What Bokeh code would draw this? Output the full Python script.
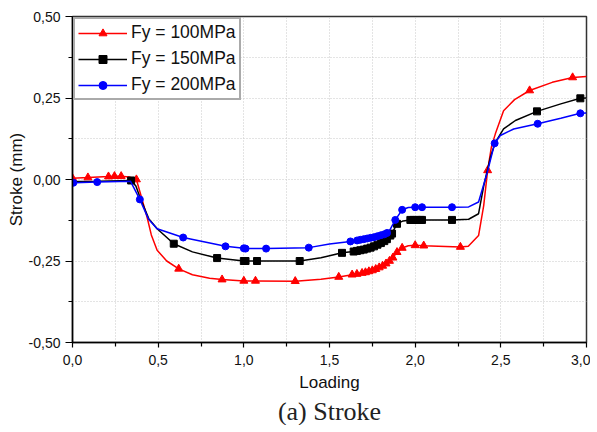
from bokeh.plotting import figure
from bokeh.models import FixedTicker, Legend, LegendItem, Title
from bokeh.embed import file_html
from bokeh.resources import INLINE

# ---- data ----
red_x = [0.0, 0.09, 0.21, 0.245, 0.284, 0.33, 0.373, 0.40, 0.435, 0.46, 0.494, 0.55, 0.62, 0.70, 0.80,
         0.873, 1.0, 1.068, 1.30, 1.45, 1.554, 1.632, 1.66, 1.69, 1.71, 1.73, 1.75, 1.77, 1.79, 1.81,
         1.83, 1.85, 1.87, 1.894, 1.924, 1.96, 2.0, 2.05, 2.264, 2.31, 2.37, 2.40, 2.423, 2.445, 2.468,
         2.516, 2.58, 2.668, 2.80, 2.919, 3.0]
red_y = [0.004, 0.006, 0.009, 0.010, 0.010, 0.008, 0.0, -0.05, -0.115, -0.17, -0.217, -0.25, -0.274,
         -0.292, -0.303, -0.307, -0.311, -0.311, -0.312, -0.306, -0.299, -0.292, -0.290, -0.287, -0.285,
         -0.282, -0.279, -0.275, -0.270, -0.265, -0.258, -0.250, -0.240, -0.223, -0.210, -0.203, -0.202,
         -0.203, -0.207, -0.205, -0.172, -0.08, 0.028, 0.10, 0.14, 0.211, 0.245, 0.273, 0.298, 0.313, 0.316]
red_mx = [0.0, 0.09, 0.21, 0.245, 0.284, 0.373, 0.62, 0.873, 1.0, 1.068, 1.30, 1.554, 1.632, 1.66, 1.69,
          1.71, 1.73, 1.75, 1.77, 1.79, 1.81, 1.83, 1.85, 1.87, 1.894, 1.924, 2.0, 2.05, 2.264, 2.423,
          2.668, 2.919]
red_my = [0.004, 0.006, 0.009, 0.010, 0.010, 0.0, -0.274, -0.307, -0.311, -0.311, -0.312, -0.299, -0.292,
          -0.290, -0.287, -0.285, -0.282, -0.279, -0.275, -0.270, -0.265, -0.258, -0.250, -0.240, -0.223,
          -0.210, -0.202, -0.203, -0.207, 0.028, 0.273, 0.313]

blk_x = [0.0, 0.15, 0.342, 0.37, 0.397, 0.445, 0.494, 0.591, 0.70, 0.844, 1.0, 1.077, 1.326, 1.45, 1.573,
         1.641, 1.68, 1.72, 1.76, 1.80, 1.835, 1.855, 1.865, 1.88, 1.894, 1.93, 1.972, 2.04, 2.215, 2.312,
         2.37, 2.40, 2.44, 2.468, 2.516, 2.585, 2.711, 2.85, 2.964, 3.0]
blk_y = [-0.006, -0.005, -0.003, -0.02, -0.059, -0.12, -0.151, -0.197, -0.222, -0.241, -0.25, -0.25, -0.25,
         -0.24, -0.225, -0.221, -0.217, -0.212, -0.205, -0.195, -0.183, -0.172, -0.166, -0.15, -0.136,
         -0.127, -0.124, -0.124, -0.124, -0.122, -0.105, -0.02, 0.07, 0.114, 0.155, 0.181, 0.209, 0.232,
         0.249, 0.25]
blk_mx = [0.342, 0.591, 0.844, 1.0, 1.01, 1.077, 1.326, 1.573, 1.641, 1.66, 1.68, 1.70, 1.72, 1.74, 1.76,
          1.78, 1.80, 1.82, 1.835, 1.855, 1.865, 1.894, 1.972, 1.99, 2.01, 2.03, 2.04, 2.215, 2.711, 2.964]
blk_my = [-0.003, -0.197, -0.241, -0.25, -0.25, -0.25, -0.25, -0.225, -0.221, -0.219, -0.217, -0.215,
          -0.212, -0.209, -0.205, -0.200, -0.195, -0.189, -0.183, -0.172, -0.166, -0.136, -0.124, -0.124,
          -0.124, -0.124, -0.124, -0.124, 0.209, 0.249]

blu_x = [0.0, 0.012, 0.144, 0.338, 0.393, 0.445, 0.494, 0.646, 0.893, 1.0, 1.01, 1.13, 1.379, 1.50, 1.622,
         1.661, 1.70, 1.74, 1.78, 1.82, 1.851, 1.884, 1.924, 1.96, 2.0, 2.04, 2.215, 2.312, 2.37, 2.42,
         2.464, 2.497, 2.575, 2.715, 2.85, 2.964, 3.0]
blu_y = [-0.01, -0.01, -0.008, -0.005, -0.061, -0.123, -0.151, -0.178, -0.205, -0.211, -0.212, -0.212,
         -0.209, -0.198, -0.19, -0.187, -0.183, -0.179, -0.174, -0.168, -0.156, -0.124, -0.093, -0.086,
         -0.085, -0.085, -0.085, -0.084, -0.069, 0.02, 0.111, 0.135, 0.155, 0.171, 0.188, 0.203, 0.204]
blu_mx = [0.005, 0.144, 0.393, 0.646, 0.893, 1.0, 1.01, 1.13, 1.379, 1.622, 1.661, 1.68, 1.70, 1.72, 1.74,
          1.76, 1.78, 1.80, 1.82, 1.836, 1.884, 1.924, 2.0, 2.04, 2.215, 2.464, 2.715, 2.964]
blu_my = [-0.01, -0.008, -0.061, -0.178, -0.205, -0.211, -0.212, -0.212, -0.209, -0.19, -0.187, -0.185,
          -0.183, -0.181, -0.179, -0.177, -0.174, -0.171, -0.168, -0.164, -0.124, -0.093, -0.085, -0.085,
          -0.085, 0.111, 0.171, 0.203]

labels = ["Fy = 100MPa", "Fy = 150MPa", "Fy = 200MPa"]
x_ticks = [0.0, 0.5, 1.0, 1.5, 2.0, 2.5, 3.0]
x_tick_labels = ["0,0", "0,5", "1,0", "1,5", "2,0", "2,5", "3,0"]
y_ticks = [-0.5, -0.25, 0.0, 0.25, 0.5]
y_tick_labels = ["-0,50", "-0,25", "0,00", "0,25", "0,50"]

FONT = "Liberation Sans"

p = figure(width=590, height=425, x_range=(0, 3), y_range=(-0.5, 0.5),
           output_backend="svg", toolbar_location=None,
           min_border_left=72, min_border_top=16, min_border_right=4, min_border_bottom=83)

p.outline_line_color = "#333333"
p.outline_line_width = 1.5
p.background_fill_color = "white"

# axes
p.xaxis.ticker = FixedTicker(ticks=x_ticks, minor_ticks=[0.25, 0.75, 1.25, 1.75, 2.25, 2.75])
p.yaxis.ticker = FixedTicker(ticks=y_ticks, minor_ticks=[-0.375, -0.125, 0.125, 0.375])
p.xaxis.major_label_overrides = dict(zip(x_ticks, x_tick_labels))
p.yaxis.major_label_overrides = dict(zip(y_ticks, y_tick_labels))
for ax in (p.xaxis[0], p.yaxis[0]):
    ax.axis_line_width = 1.5
    ax.axis_line_color = "black"
    ax.major_tick_line_color = "black"
    ax.minor_tick_line_color = "black"
    ax.major_tick_line_width = 1.2
    ax.minor_tick_line_width = 1.2
    ax.major_tick_in = 0
    ax.minor_tick_in = 0
    ax.major_label_text_font = FONT
    ax.major_label_text_font_size = "14px"
    ax.major_label_text_color = "#111111"
    ax.axis_label_text_font = FONT
    ax.axis_label_text_font_size = "17px"
    ax.axis_label_text_font_style = "normal"
    ax.axis_label_text_color = "#111111"
p.xaxis.major_tick_out = 5
p.xaxis.minor_tick_out = 4
p.yaxis.major_tick_out = 7
p.yaxis.minor_tick_out = 4
p.xaxis.major_label_standoff = 7
p.yaxis.major_label_standoff = 5
p.xaxis.axis_label = "Loading"
p.yaxis.axis_label = "Stroke (mm)"
p.xaxis.axis_label_standoff = 5
p.yaxis.axis_label_standoff = 0

# grid
p.xgrid.ticker = FixedTicker(ticks=[0.25, 0.5, 0.75, 1.0, 1.25, 1.5, 1.75, 2.0, 2.25, 2.5, 2.75])
p.ygrid.ticker = FixedTicker(ticks=[-0.375, -0.25, -0.125, 0.0, 0.125, 0.25, 0.375])
for g in (p.xgrid[0], p.ygrid[0]):
    g.grid_line_color = "#c8c8c8"
    g.grid_line_dash = "1 2"
    g.grid_line_width = 1

# series
r1 = p.line(red_x, red_y, line_color="red", line_width=1.5)
m1 = p.scatter(red_mx, red_my, marker="triangle", size=8, color="red")
r2 = p.line(blk_x, blk_y, line_color="black", line_width=1.5)
m2 = p.scatter(blk_mx, blk_my, marker="square", size=7, color="black")
r3 = p.line(blu_x, blu_y, line_color="blue", line_width=1.5)
m3 = p.scatter(blu_mx, blu_my, marker="circle", size=7, color="blue")

legend = Legend(items=[LegendItem(label=labels[0], renderers=[r1, m1]),
                       LegendItem(label=labels[1], renderers=[r2, m2]),
                       LegendItem(label=labels[2], renderers=[r3, m3])],
                location="top_left")
legend.margin = 1
legend.padding = 3
legend.spacing = 5
legend.glyph_width = 49
legend.glyph_height = 20
legend.label_height = 20
legend.label_standoff = 4
legend.label_text_font = FONT
legend.label_text_font_size = "17.5px"
legend.label_text_color = "#111111"
legend.border_line_color = "#555555"
legend.border_line_width = 2
legend.background_fill_alpha = 1
p.add_layout(legend)

cap = Title(text="(a) Stroke", align="center", text_font="Liberation Serif",
            text_font_size="26px", text_font_style="normal", text_color="#222222", standoff=0)
p.add_layout(cap, "below")

open("out.html", "w").write(file_html(p, INLINE))
